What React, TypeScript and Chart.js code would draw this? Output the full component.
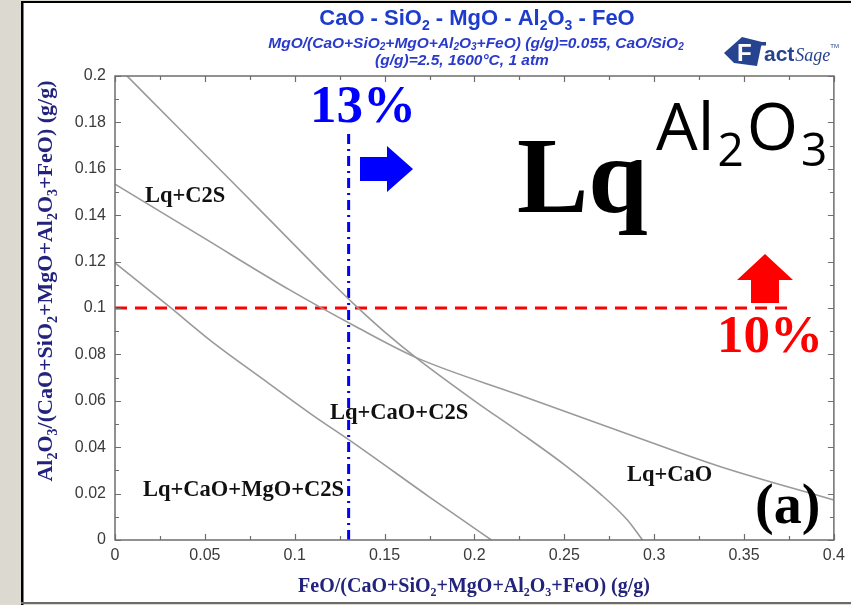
import React, { useEffect, useRef } from 'react';
import { Chart, registerables } from 'chart.js';

Chart.register(...registerables);

const W = 851;
const H = 605;

// Phase boundaries at 1600 °C: FeO mass fraction (x) against Al2O3 mass fraction (y)
const boundaryAX = [0.0067, 0.035, 0.065, 0.095, 0.12, 0.134, 0.15, 0.168, 0.2, 0.225, 0.25, 0.27, 0.285, 0.2935];
const boundaryAY = [0.2, 0.1779, 0.1545, 0.131, 0.1114, 0.1009, 0.0897, 0.0783, 0.06, 0.0465, 0.0325, 0.0199, 0.0087, 0];
const boundaryBX = [0, 0.0494, 0.0972, 0.1344, 0.168, 0.225, 0.2806, 0.3361, 0.4];
const boundaryBY = [0.1534, 0.1302, 0.1078, 0.0918, 0.0785, 0.0625, 0.047, 0.0318, 0.0172];
const boundaryCX = [0, 0.0306, 0.0528, 0.0806, 0.1083, 0.1344, 0.175, 0.1917, 0.2094];
const boundaryCY = [0.1194, 0.1004, 0.0862, 0.0703, 0.0547, 0.0409, 0.0185, 0.0095, 0];

// Composition limits
const feoLimit = 0.13; // 13 %
const feoLimitTop = 0.177;
const al2o3Limit = 0.1; // 10 %
const al2o3LimitEnd = 0.3765;

// Axis ranges and tick spacing
const xRange = [0, 0.4];
const yRange = [0, 0.2];
const xTickStep = 0.025;
const xLabelStep = 0.05;
const yTickStep = 0.01;
const yLabelStep = 0.02;

// Region names
const regionNames = ['Lq+C2S', 'Lq+CaO+C2S', 'Lq+CaO', 'Lq+CaO+MgO+C2S'];

const titleText = 'CaO - SiO_2 - MgO - Al_2O_3 - FeO';
const subtitleLines = [
  'MgO/(CaO+SiO_2+MgO+Al_2O_3+FeO) (g/g)=0.055, CaO/SiO_2',
  '(g/g)=2.5, 1600°C, 1 atm',
];
const xAxisTitle = 'FeO/(CaO+SiO_2+MgO+Al_2O_3+FeO) (g/g)';
const yAxisTitle = 'Al_2O_3/(CaO+SiO_2+MgO+Al_2O_3+FeO) (g/g)';

const CURVE = '#9a9a9a';
const FRAME = '#6e6e6e';
const SERIF = '"Liberation Serif", "Times New Roman", serif';
const SANS = '"Liberation Sans", Arial, sans-serif';

const zip = (xs: number[], ys: number[]) => xs.map((x, i) => ({ x, y: ys[i] }));

const isMultiple = (v: number, step: number) => {
  const k = Math.round(v * 1000);
  const s = Math.round(step * 1000);
  return k % s === 0;
};

// "_d" marks a subscript character
function parseRich(s: string): Array<[string, boolean]> {
  const out: Array<[string, boolean]> = [];
  let buf = '';
  for (let i = 0; i < s.length; i++) {
    if (s[i] === '_' && i + 1 < s.length) {
      if (buf) out.push([buf, false]);
      buf = '';
      out.push([s[i + 1], true]);
      i++;
    } else {
      buf += s[i];
    }
  }
  if (buf) out.push([buf, false]);
  return out;
}

type RichOpts = {
  size: number;
  family: string;
  weight?: string;
  style?: string;
  color: string;
  align?: 'left' | 'center' | 'right';
  subScale?: number;
  subDrop?: number;
  subGap?: number;
};

function drawRich(ctx: CanvasRenderingContext2D, s: string, x: number, y: number, o: RichOpts) {
  const segs = parseRich(s);
  const weight = o.weight ?? 'bold';
  const style = o.style ?? 'normal';
  const subScale = o.subScale ?? 0.62;
  const subDrop = o.subDrop ?? 0.22;
  const gap = o.subGap ?? 0;
  const mf = `${style} ${weight} ${o.size}px ${o.family}`;
  const sf = `${style} ${weight} ${Math.round(o.size * subScale)}px ${o.family}`;
  let total = 0;
  const ws = segs.map(([t, sub]) => {
    ctx.font = sub ? sf : mf;
    const w = ctx.measureText(t).width + (sub ? gap * 2 : 0);
    total += w;
    return w;
  });
  let cx = o.align === 'center' ? x - total / 2 : o.align === 'right' ? x - total : x;
  ctx.fillStyle = o.color;
  ctx.textAlign = 'left';
  ctx.textBaseline = 'alphabetic';
  segs.forEach(([t, sub], i) => {
    ctx.font = sub ? sf : mf;
    ctx.fillText(t, sub ? cx + gap : cx, sub ? y + o.size * subDrop : y);
    cx += ws[i];
  });
}

function drawLogo(ctx: CanvasRenderingContext2D) {
  ctx.save();
  const blue = '#26438f';
  ctx.fillStyle = blue;
  ctx.beginPath();
  ctx.moveTo(724, 53);
  ctx.lineTo(742, 37);
  ctx.lineTo(762, 42);
  ctx.lineTo(757, 66);
  ctx.lineTo(734, 63);
  ctx.closePath();
  ctx.fill();
  ctx.textBaseline = 'alphabetic';
  ctx.textAlign = 'left';
  ctx.fillStyle = '#ffffff';
  ctx.font = `bold 24px ${SANS}`;
  ctx.fillText('F', 737, 61);
  ctx.fillStyle = blue;
  ctx.fillRect(752, 42, 14, 3.5);
  ctx.font = `bold 21px ${SANS}`;
  let x = 764;
  ctx.fillText('act', x, 61);
  x += ctx.measureText('act').width;
  ctx.font = `italic 18px ${SERIF}`;
  ctx.fillText('Sage', x + 1, 61);
  x += ctx.measureText('Sage').width + 1;
  ctx.font = `6px ${SANS}`;
  ctx.fillText('TM', x, 48);
  ctx.restore();
}

function poly(ctx: CanvasRenderingContext2D, pts: number[][], color: string) {
  ctx.fillStyle = color;
  ctx.beginPath();
  pts.forEach(([px, py], i) => (i ? ctx.lineTo(px, py) : ctx.moveTo(px, py)));
  ctx.closePath();
  ctx.fill();
}

const decorPlugin = {
  id: 'decor',
  beforeDraw(chart: any) {
    const ctx: CanvasRenderingContext2D = chart.ctx;
    ctx.save();
    ctx.fillStyle = '#dcdad0';
    ctx.fillRect(0, 0, W, H);
    ctx.fillStyle = '#ffffff';
    ctx.fillRect(22, 2, W - 22, H - 4);
    ctx.fillStyle = '#000000';
    ctx.fillRect(21, 1, 2.5, H - 1);
    ctx.fillRect(21, 1, W - 21, 2);
    ctx.fillStyle = '#6a6a6a';
    ctx.fillRect(21, 602, W - 21, 2);
    ctx.restore();
  },
  afterDatasetsDraw(chart: any) {
    const ctx: CanvasRenderingContext2D = chart.ctx;
    const { left, right, top, bottom } = chart.chartArea;
    const xs = chart.scales.x;
    const ys = chart.scales.y;
    ctx.save();

    // frame with inward ticks on all four sides
    ctx.strokeStyle = FRAME;
    ctx.lineWidth = 1.5;
    ctx.strokeRect(left, top, right - left, bottom - top);
    ctx.lineWidth = 1.2;
    ctx.beginPath();
    xs.ticks.forEach((t: any) => {
      const px = Math.round(xs.getPixelForValue(t.value)) + 0.5;
      const len = isMultiple(t.value, xLabelStep) ? 6 : 4;
      ctx.moveTo(px, bottom);
      ctx.lineTo(px, bottom - len);
      ctx.moveTo(px, top);
      ctx.lineTo(px, top + len);
    });
    ys.ticks.forEach((t: any) => {
      const py = Math.round(ys.getPixelForValue(t.value)) + 0.5;
      const len = isMultiple(t.value, yLabelStep) ? 6 : 4;
      ctx.moveTo(left, py);
      ctx.lineTo(left + len, py);
      ctx.moveTo(right, py);
      ctx.lineTo(right - len, py);
    });
    ctx.stroke();

    // region names
    ctx.fillStyle = '#111111';
    ctx.font = `bold 22.5px ${SERIF}`;
    ctx.textAlign = 'left';
    ctx.textBaseline = 'alphabetic';
    const namePos = [
      [145, 202],
      [330, 419],
      [627, 481],
      [143, 496],
    ];
    regionNames.forEach((n, i) => ctx.fillText(n, namePos[i][0], namePos[i][1]));

    // liquid field
    ctx.fillStyle = '#000000';
    ctx.font = `bold 107px ${SERIF}`;
    ctx.fillText('Lq', 517, 212);
    drawRich(ctx, 'Al_2O_3', 656, 150, {
      size: 66,
      family: '"Open Sans", sans-serif',
      weight: 'normal',
      color: '#000000',
      subScale: 0.7,
      subDrop: 0.24,
      subGap: 3,
    });

    // FeO limit marker
    ctx.fillStyle = '#0000ff';
    ctx.font = `bold 53px ${SERIF}`;
    ctx.fillText('13%', 310, 122);
    poly(ctx, [[360, 157], [387, 157], [387, 146], [413, 169], [387, 192], [387, 181], [360, 181]], '#0000ff');

    // Al2O3 limit marker
    ctx.fillStyle = '#ff0000';
    ctx.font = `bold 53px ${SERIF}`;
    ctx.fillText('10%', 717, 352);
    poly(ctx, [[765, 254], [793, 280], [779, 280], [779, 303], [751, 303], [751, 280], [737, 280]], '#ff0000');

    // panel letter
    ctx.fillStyle = '#000000';
    ctx.font = `bold 56px ${SERIF}`;
    ctx.fillText('(a)', 755, 523);

    // titles
    drawRich(ctx, titleText, 477, 25, { size: 22, family: SANS, color: '#1e3ccc', align: 'center' });
    drawRich(ctx, subtitleLines[0], 476, 48, {
      size: 15.5,
      family: SANS,
      style: 'italic',
      color: '#2a3acb',
      align: 'center',
      subDrop: 0.16,
    });
    drawRich(ctx, subtitleLines[1], 462, 65, {
      size: 15.5,
      family: SANS,
      style: 'italic',
      color: '#2a3acb',
      align: 'center',
      subDrop: 0.16,
    });
    drawLogo(ctx);

    // axis titles
    drawRich(ctx, xAxisTitle, 474, 592, { size: 20, family: SERIF, color: '#23237d', align: 'center' });
    ctx.save();
    ctx.translate(52, 281);
    ctx.rotate(-Math.PI / 2);
    drawRich(ctx, yAxisTitle, 0, 0, { size: 22, family: SERIF, color: '#23237d', align: 'center' });
    ctx.restore();

    ctx.restore();
  },
};

const tickFont = { family: SANS, size: 16 };

export default function App() {
  const ref = useRef<HTMLCanvasElement | null>(null);

  useEffect(() => {
    if (!ref.current) return;
    const curve = (label: string, xs: number[], ys: number[]) => ({
      label,
      data: zip(xs, ys),
      showLine: true,
      borderColor: CURVE,
      borderWidth: 1.6,
      pointRadius: 0,
      cubicInterpolationMode: 'monotone' as const,
    });
    const chart = new Chart(ref.current, {
      type: 'scatter',
      data: {
        datasets: [
          curve('Lq / Lq+C2S', boundaryAX, boundaryAY),
          curve('C2S / CaO', boundaryBX, boundaryBY),
          curve('MgO', boundaryCX, boundaryCY),
          {
            label: 'Al2O3 10%',
            data: [
              { x: 0, y: al2o3Limit },
              { x: al2o3LimitEnd, y: al2o3Limit },
            ],
            showLine: true,
            borderColor: '#ff0000',
            borderWidth: 3,
            borderDash: [12, 8],
            pointRadius: 0,
          },
          {
            label: 'FeO 13%',
            data: [
              { x: feoLimit, y: 0 },
              { x: feoLimit, y: feoLimitTop },
            ],
            showLine: true,
            borderColor: '#0000ff',
            borderWidth: 3,
            borderDash: [10, 5, 2, 5],
            pointRadius: 0,
          },
        ],
      },
      options: {
        responsive: false,
        animation: false,
        devicePixelRatio: 1,
        layout: { padding: { left: 0, top: 76, right: 16, bottom: 0 } },
        plugins: {
          legend: { display: false },
          tooltip: { enabled: false },
          title: { display: false },
        },
        scales: {
          x: {
            type: 'linear',
            min: xRange[0],
            max: xRange[1],
            afterFit: (s: any) => {
              s.height = 65;
            },
            grid: { display: false, drawTicks: false },
            border: { display: false },
            ticks: {
              stepSize: xTickStep,
              autoSkip: false,
              maxRotation: 0,
              padding: 6,
              font: tickFont,
              color: '#3a3a3a',
              callback: (v: any) => (isMultiple(Number(v), xLabelStep) ? String(Math.round(Number(v) * 1000) / 1000) : ''),
            },
          },
          y: {
            type: 'linear',
            min: yRange[0],
            max: yRange[1],
            afterFit: (s: any) => {
              s.width = 115;
            },
            grid: { display: false, drawTicks: false },
            border: { display: false },
            ticks: {
              stepSize: yTickStep,
              autoSkip: false,
              padding: 9,
              font: tickFont,
              color: '#3a3a3a',
              callback: (v: any) => (isMultiple(Number(v), yLabelStep) ? String(Math.round(Number(v) * 1000) / 1000) : ''),
            },
          },
        },
      },
      plugins: [decorPlugin],
    } as any);
    return () => chart.destroy();
  }, []);

  return (
    <div style={{ position: 'absolute', left: 0, top: 0, width: W, height: H }}>
      <canvas ref={ref} width={W} height={H} style={{ width: W, height: H, display: 'block' }} />
    </div>
  );
}
